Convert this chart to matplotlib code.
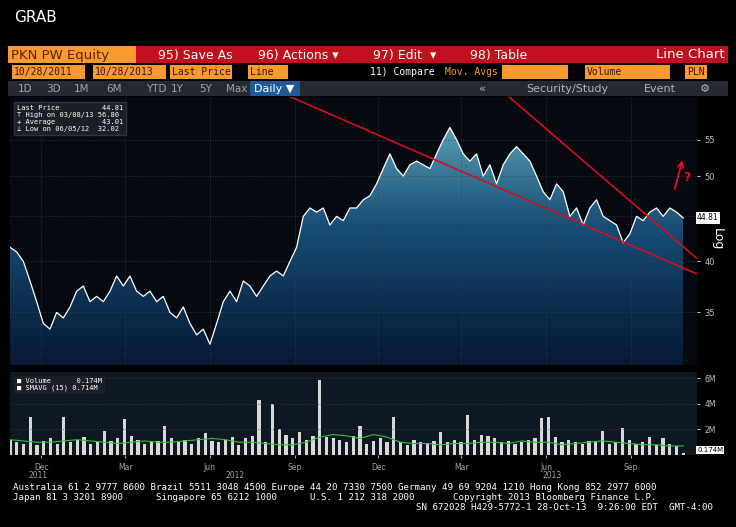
import matplotlib
matplotlib.use("Agg")
import matplotlib.pyplot as plt
import numpy as np
import pandas as pd
from matplotlib.patches import Rectangle, Polygon
import matplotlib.dates as mdates
from matplotlib.colors import LinearSegmentedColormap

price = [41.5, 41, 40, 38, 36, 34, 33.5, 35, 34.5, 35.5, 37, 37.5, 36, 36.5, 36, 37, 38.5, 37.5,
         38.5, 37, 36.5, 37, 36, 36.5, 35, 34.5, 35.5, 34, 33, 33.5, 32.2, 34, 36, 37, 36,
         38, 37.5, 36.5, 37.5, 38.5, 39, 38.5, 40, 41.5, 45, 46, 45.5, 46, 44, 45, 44.5, 46, 46,
         47, 47.5, 49, 51, 53, 51, 50, 51.5, 52, 51.5, 51, 53, 55, 56.8, 55, 53, 52,
         53, 50, 51.5, 49, 51.5, 53, 54, 53, 52, 50, 48, 47, 49, 48, 45, 46,
         44, 46, 47, 45, 44.5, 44, 42, 43, 45, 44.5, 45.5, 46, 45, 46, 45.5, 44.81]
volume = [1.2, 1.0, 0.9, 3.0, 0.8, 1.1, 1.3, 0.9, 3.0, 1.0, 1.2, 1.4, 0.9, 1.0, 1.9, 1.1, 1.3, 2.8,
          1.5, 1.2, 0.9, 1.0, 1.1, 2.3, 1.3, 1.0, 1.2, 0.9, 1.3, 1.7, 1.1, 1.0, 1.2, 1.4, 0.8,
          1.3, 1.5, 4.3, 1.0, 4.0, 2.0, 1.6, 1.3, 1.8, 1.2, 1.5, 5.9, 1.4, 1.3, 1.2, 1.0, 1.5,
          2.3, 0.9, 1.1, 1.3, 1.0, 3.0, 1.0, 0.8, 1.2, 1.0, 0.9, 1.1, 1.8, 1.0, 1.2, 1.0, 3.1,
          1.2, 1.6, 1.5, 1.3, 1.0, 1.1, 0.9, 1.0, 1.2, 1.3, 2.9, 3.0, 1.4, 1.0, 1.2, 1.0,
          0.9, 1.1, 1.0, 1.9, 0.9, 1.0, 2.1, 1.2, 0.9, 1.0, 1.4, 0.8, 1.3, 0.9, 0.7, 0.174]
smavg = [1.2, 1.1, 1.0, 1.0, 1.1, 1.2, 1.1, 1.0, 0.9, 1.0, 1.1, 1.0, 1.0, 1.1, 1.2, 1.3, 1.2, 1.0,
         1.0, 0.9, 0.8, 0.8, 1.0, 1.4, 1.6, 1.5, 1.3, 1.6, 1.4, 1.0, 0.9, 0.9, 0.8, 0.9, 0.9,
         1.0, 1.0, 0.9, 1.1, 1.0, 1.0, 0.8, 0.9, 1.0, 1.1, 1.0, 0.9, 0.8, 0.8, 0.7, 0.714]
tick_months = ["Dec", "Mar", "Jun", "Sep", "Dec", "Mar", "Jun", "Sep"]
tick_dates = ["2011-12-01", "2012-03-01", "2012-06-01", "2012-09-01", "2012-12-01",
              "2013-03-01", "2013-06-01", "2013-09-01"]
price_ticks = [35, 40, 45, 50, 55]
price_tick_labels = ["35", "40", "", "50", "55"]

start, end = pd.Timestamp("2011-10-28"), pd.Timestamp("2013-10-28")
pd_dates = pd.to_datetime(np.linspace(start.value, end.value, len(price)))
vd = pd.to_datetime(np.linspace(start.value, end.value, len(volume)))
sd = pd.to_datetime(np.linspace(start.value, end.value, len(smavg)))

W, H = 736, 527
fig = plt.figure(figsize=(W/100, H/100), dpi=100, facecolor="black")
def fx(x): return x / W
def fy(y): return 1 - y / H
mono = "DejaVu Sans Mono"

fig.text(fx(14), fy(17), "GRAB", color="white", fontsize=11, va="center")
def box(x0, y0, x1, y1, fc):
    fig.patches.append(Rectangle((fx(x0), fy(y1)), fx(x1-x0), (y1-y0)/H, facecolor=fc,
                                 edgecolor="none", transform=fig.transFigure))
box(8, 46, 728, 63, "#c0101e")
box(8, 46, 136, 63, "#f89a30")
fig.text(fx(11), fy(55), "PKN PW Equity", color="#5a2000", fontsize=9.5, va="center")
for x, t in [(158, "95) Save As"), (258, "96) Actions ▾"), (373, "97) Edit  ▾"), (470, "98) Table")]:
    fig.text(fx(x), fy(55), t, color="white", fontsize=9, va="center")
fig.text(fx(725), fy(55), "Line Chart", color="white", fontsize=9.5, va="center", ha="right")
for x0, x1, t in [(12, 85, "10/28/2011"), (93, 166, "10/28/2013"), (170, 232, "Last Price"),
                  (248, 288, "Line"), (502, 568, ""), (585, 670, "Volume"), (685, 707, "PLN")]:
    box(x0, 65, x1, 79, "#f89a30")
    fig.text(fx(x0+2), fy(72), t, color="#3a1500", fontsize=7, va="center", family=mono)
fig.text(fx(370), fy(72), "11) Compare", color="white", fontsize=7, va="center", family=mono)
fig.text(fx(445), fy(72), "Mov. Avgs", color="#f89a30", fontsize=7, va="center", family=mono)
box(8, 81, 728, 96, "#262a30")
xs = [12, 40, 68, 100, 140, 165, 193, 220]
for x, t in zip(xs, ["1D", "3D", "1M", "6M", "YTD", "1Y", "5Y", "Max"]):
    fig.text(fx(x+6), fy(89), t, color="#a0a4aa", fontsize=7.5, va="center")
box(250, 81, 300, 96, "#1e5a9a")
fig.text(fx(254), fy(89), "Daily ▼", color="white", fontsize=8, va="center")
fig.text(fx(478), fy(89), "«", color="#b0b4ba", fontsize=8, va="center")
fig.text(fx(526), fy(89), "Security/Study", color="#b0b4ba", fontsize=8, va="center")
fig.text(fx(644), fy(89), "Event", color="#b0b4ba", fontsize=8, va="center")
fig.text(fx(700), fy(89), "⚙", color="#b0b4ba", fontsize=8, va="center")

ax = fig.add_axes([fx(10), fy(365), fx(687), 268/H])
ax.set_facecolor("#06090f")
ax.set_yscale("log")
ax.set_ylim(30.5, 61.5)
ax.set_xlim(start, end + pd.Timedelta(days=15))
xn = mdates.date2num(pd_dates)
grad = np.linspace(0, 1, 256).reshape(-1, 1)
cmap = LinearSegmentedColormap.from_list("g", ["#061a35", "#174e78", "#5aa0b4"])
im = ax.imshow(grad, cmap=cmap, aspect="auto", origin="lower",
               extent=[xn[0], xn[-1], 30.5, 57], zorder=1)
poly = Polygon(list(zip(xn, price)) + [(xn[-1], 30.5), (xn[0], 30.5)], closed=True,
               transform=ax.transData, facecolor="none", edgecolor="none")
ax.add_patch(poly)
im.set_clip_path(poly)
ax.plot(pd_dates, price, color="white", lw=0.9, zorder=3)
for d in tick_dates:
    ax.axvline(pd.Timestamp(d), color="#3a4048", lw=0.6, ls=(0, (1, 2)), zorder=2)
for p in price_ticks:
    ax.axhline(p, color="#3a4048", lw=0.6, ls=(0, (1, 2)), zorder=2)
ax.yaxis.tick_right()
ax.set_yticks(price_ticks)
ax.set_yticklabels(price_tick_labels)
ax.yaxis.set_minor_locator(matplotlib.ticker.NullLocator())
ax.tick_params(axis="y", colors="#c0c4c8", labelsize=6, length=2)
ax.set_xticks([])
for s in ax.spines.values(): s.set_visible(False)
ax.text(1.02, 0.47, "Log", transform=ax.transAxes, rotation=270, color="white",
        fontsize=9, va="center", ha="left")
ax.text(1.0, 44.81, "44.81", transform=ax.get_yaxis_transform(), color="black", fontsize=5.5,
        va="center", bbox=dict(facecolor="white", edgecolor="none", pad=1))
ax.plot([pd.Timestamp("2012-08-28"), pd.Timestamp("2013-11-12")], [61.5, 38.7], color="#d01020", lw=1.2, zorder=4)
ax.plot([pd.Timestamp("2013-04-22"), pd.Timestamp("2013-11-12")], [61.5, 40.3], color="#d01020", lw=1.2, zorder=4)
ax.annotate("", xy=(pd.Timestamp("2013-10-28"), 52.5), xytext=(pd.Timestamp("2013-10-18"), 48),
            arrowprops=dict(arrowstyle="->", color="#e01020", lw=1.3))
ax.text(pd.Timestamp("2013-10-28"), 49.3, "?", color="#e01020", fontsize=9, fontweight="bold")
lg = ("Last Price          44.81\n⊤ High on 03/08/13 56.80\n+ Average           43.01\n⊥ Low on 06/05/12  32.02")
ax.text(0.01, 0.97, lg, transform=ax.transAxes, color="white", fontsize=5, va="top", family=mono,
        bbox=dict(facecolor="#1c2026", edgecolor="#30343a", pad=2))

vx = fig.add_axes([fx(10), fy(455), fx(687), 83/H])
vx.set_facecolor("#0d1822")
vx.bar(vd, volume, width=3.5, color="#d8d8d8", zorder=2)
vx.plot(sd, smavg, color="#30c030", lw=0.8, zorder=3)
vx.set_xlim(start, end + pd.Timedelta(days=15))
vx.set_ylim(0, 6.5)
vx.yaxis.tick_right()
vx.set_yticks([2, 4, 6])
vx.set_yticklabels(["2M", "4M", "6M"])
for v in [2, 4, 6]:
    vx.axhline(v, color="#3a4048", lw=0.6, ls=(0, (1, 2)))
vx.tick_params(axis="y", colors="#c0c4c8", labelsize=5.5, length=2)
vx.set_xticks(pd.to_datetime(tick_dates))
vx.set_xticklabels(tick_months)
vx.tick_params(axis="x", colors="#a0a4a8", labelsize=5.5, length=2)
for s in vx.spines.values(): s.set_visible(False)
vx.text(0.01, 0.93, "■ Volume      0.174M\n■ SMAVG (15) 0.714M", transform=vx.transAxes,
        color="white", fontsize=5, va="top", family=mono,
        bbox=dict(facecolor="#1c2026", edgecolor="none", pad=2))
vx.text(1.0, 0.174, "0.174M", transform=vx.get_yaxis_transform(), color="black", fontsize=5,
        va="bottom", bbox=dict(facecolor="white", edgecolor="none", pad=0.8))
for x, t in [(38, "2011"), (235, "2012"), (552, "2013")]:
    fig.text(fx(x), fy(476), t, color="#a0a4a8", fontsize=5.5, va="center", ha="center")

foot = ["Australia 61 2 9777 8600 Brazil 5511 3048 4500 Europe 44 20 7330 7500 Germany 49 69 9204 1210 Hong Kong 852 2977 6000",
        "Japan 81 3 3201 8900      Singapore 65 6212 1000      U.S. 1 212 318 2000       Copyright 2013 Bloomberg Finance L.P."]
fig.text(fx(13), fy(488), foot[0], color="white", fontsize=6.6, family=mono, va="center")
fig.text(fx(13), fy(498), foot[1], color="white", fontsize=6.6, family=mono, va="center")
fig.text(fx(713), fy(508), "SN 672028 H429-5772-1 28-Oct-13  9:26:00 EDT  GMT-4:00", color="white",
         fontsize=6.6, family=mono, va="center", ha="right")
fig.savefig("out.png", dpi=100, facecolor="black")
